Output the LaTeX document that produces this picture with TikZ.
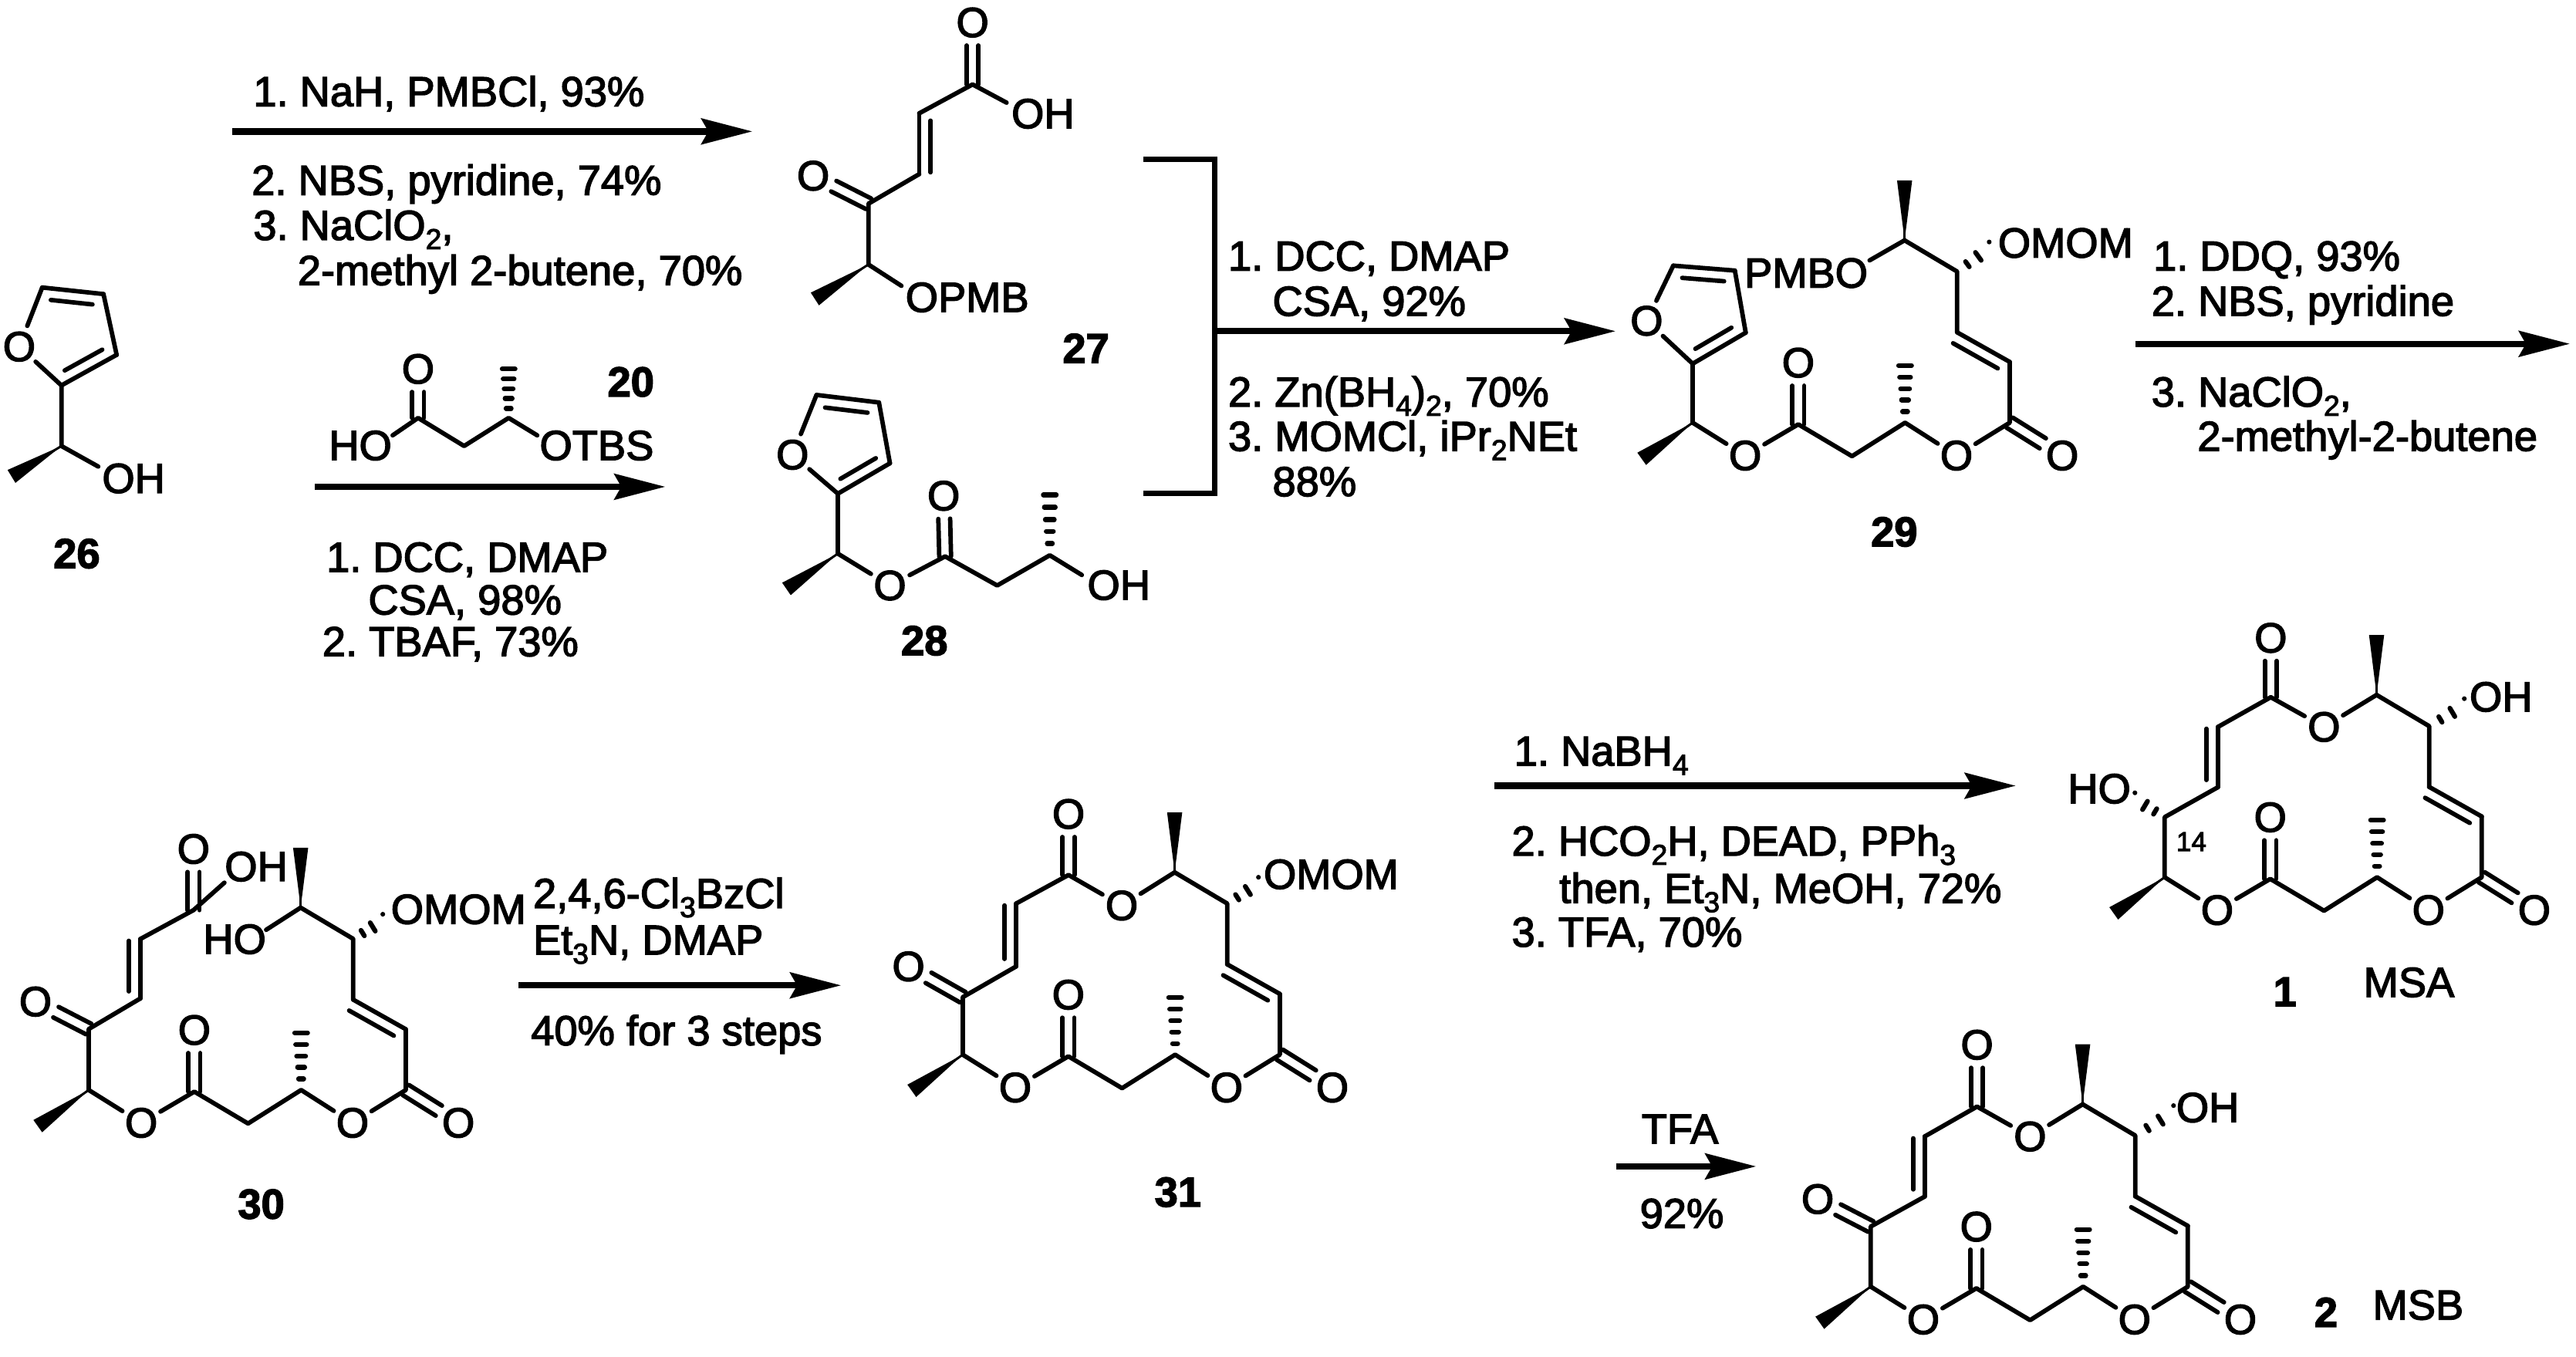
\documentclass[tikz,border=0pt]{standalone}
\usepackage{fontspec}
\setmainfont{Liberation Sans}[RawFeature={embolden=2.6}]
\frenchspacing
\usetikzlibrary{arrows.meta,calc}
\tikzset{
	scheme/.style={
		x=1pt,
		y=-1pt,
		font=\fontsize{25.5}{30}\selectfont,
	},
	plain bond/.style={
		line width=2.7pt,
		line cap=round,
		line join=round
	},
	hash bar/.style={
		line width=2.9pt,
		line cap=round
	},
	reaction arrow/.style={
		line width=3.9pt,
		-{Stealth[length=31pt,width=15.6pt,inset=4.2pt]}
	},
	bracket line/.style={
		line width=3pt,
		line join=miter
	},
	atom label/.style={
		circle,
		inner sep=0pt
	},
	group label/.style={
		anchor=base west,
		inner sep=0pt
	},
	reagent text/.style={
		anchor=base west,
		inner sep=0pt
	},
	compound number/.style={
		inner sep=0pt,
		font=\fontsize{25.5}{30}\selectfont\bfseries
	},
	compound name/.style={
		inner sep=0pt
	}
}
\newcommand{\subs}[1]{\raisebox{-0.22em}{\fontsize{17.5}{17.5}\selectfont #1}}
% offset line of a C=C, on the left of the way from #2 to #3 for 90
\newcommand{\innerbond}[3][90]{%
	\draw[plain bond] ($(#2)!0.12!(#3)!7pt!#1:(#3)$) -- ($(#2)!0.97!(#3)!7pt!#1:(#3)$);
	\draw[plain bond] (#2) -- (#3);
}
\newcommand{\ringbond}[2]{%
	\draw[plain bond] ($(#1)!0.16!(#2)!7pt!90:(#2)$) -- ($(#1)!0.84!(#2)!7pt!90:(#2)$);
	\draw[plain bond] (#1) -- (#2);
}
% C=O from a coordinate to an atom label
\newcommand{\cobond}[2]{%
	\draw[plain bond] ($(#1)!3.6pt!90:(#2)$) -- ($(#2)!14pt!(#1)!3.6pt!-90:(#1)$);
	\draw[plain bond] ($(#1)!3.6pt!-90:(#2)$) -- ($(#2)!14pt!(#1)!3.6pt!90:(#1)$);
}
\newcommand{\wedgebond}[2]{%
	\fill (#1) -- ($(#2)!4.6pt!90:(#1)$) -- ($(#2)!4.6pt!-90:(#1)$) -- cycle;
	\draw[line width=1.4pt] (#1) -- ($(#1)!0.25!(#2)$);
}
\newcommand{\hashbond}[3][0.19,0.39,0.58,0.78,0.98]{%
	\foreach \hpos in {#1}
		\draw[hash bar] ($(#2)!\hpos!(#3)!{1pt+\hpos*3pt}!90:(#3)$) -- ($(#2)!\hpos!(#3)!{1pt+\hpos*3pt}!-90:(#3)$);
}
% the part that all five macrolides share, placed by its lower left stereocentre
\newcommand{\macrolide}[3]{%
	\begin{scope}[shift={(#2,#3)}]
		\foreach \n/\x/\y in {s/0/0,w/-31/22,cb/64.3/1,ch/97/20.4,cc/129.3/0,hh/129.3/-35.5,cd/193/0,ce/193/-37,cf/161/-55,cg/161/-92,ci/129/-111,wi/129/-147.5}
			\coordinate (#1\n) at (\x,\y);
		\foreach \n/\x/\y in {oa/32/20,ob/64.3/-36.5,oc/160.6/20,od/225/20}
			\node[atom label] (#1\n) at (\x,\y) {O};
		\draw[plain bond] (#1s) -- (#1oa) -- (#1cb) -- (#1ch) -- (#1cc) -- (#1oc) -- (#1cd) -- (#1ce);
		\draw[plain bond] (#1cf) -- (#1cg) -- (#1ci);
		\innerbond{#1ce}{#1cf}
		\cobond{#1cb}{#1ob}
		\cobond{#1cd}{#1od}
		\wedgebond{#1s}{#1w}
		\wedgebond{#1ci}{#1wi}
		\hashbond{#1cc}{#1hh}
	\end{scope}
}

\begin{document}
\begin{tikzpicture}[scheme]
	\useasboundingbox (0,0) rectangle (1568,826);

	% 26
	\foreach \n/\x/\y in {a/25.7/175,b/63/179,c/71/216,d/37.4/234.6,e/37.4/271.5,w/7/290,f/59.8/284}
		\coordinate (m26\n) at (\x,\y);
	\node[atom label] (m26o) at (11.7,211) {O};
	\node[group label] (m26oh) at (62,300) {OH};
	\node[compound number] (n26) at (46.7,337) {26};
	\draw[plain bond] (m26o) -- (m26a) (m26b) -- (m26c) (m26d) -- (m26o) (m26d) -- (m26e) -- (m26f);
	\ringbond{m26d}{m26c}
	\ringbond{m26b}{m26a}
	\wedgebond{m26e}{m26w}

	% 26 to 27
	\coordinate (a1s) at (141.5,80);
	\coordinate (a1e) at (458,80);
	\draw[reaction arrow] (a1s) -- (a1e);
	\node[reagent text] (r1a) at (154,64.6) {1. NaH, PMBCl, 93\%};
	\node[reagent text] (r1b) at (153,118.6) {2. NBS, pyridine, 74\%};
	\node[reagent text] (r1c) at (154,146) {3. NaClO\subs{2},};
	\node[reagent text] (r1d) at (181,173.5) {2-methyl 2-butene, 70\%};

	% 27
	\foreach \n/\x/\y in {a/592/51.4,b/612.7/62.5,c/559.5/69,d/559.5/106,e/528.6/124,f/528.6/161,w/496/182,g/548.7/174}
		\coordinate (m27\n) at (\x,\y);
	\node[atom label] (m27o) at (592,13.7) {O};
	\node[atom label] (m27p) at (495,107) {O};
	\node[group label] (m27oh) at (615.5,78) {OH};
	\node[group label] (m27opmb) at (551,189.8) {OPMB};
	\node[compound number] (n27) at (661,212) {27};
	\draw[plain bond] (m27b) -- (m27a) -- (m27c) (m27d) -- (m27e) -- (m27f) -- (m27g);
	\innerbond{m27c}{m27d}
	\cobond{m27a}{m27o}
	\cobond{m27e}{m27p}
	\wedgebond{m27f}{m27w}

	% 20
	\foreach \n/\x/\y in {a/254.5/254.4,b/282.5/271.5,c/309.6/254.4,h/309.6/224,d/239/265,e/327/265}
		\coordinate (m20\n) at (\x,\y);
	\node[atom label] (m20o) at (254.5,224.6) {O};
	\node[group label] (m20ho) at (200,280) {HO};
	\node[group label] (m20otbs) at (328.3,280) {OTBS};
	\node[compound number] (n20) at (384,232.5) {20};
	\draw[plain bond] (m20d) -- (m20a) -- (m20b) -- (m20c) -- (m20e);
	\cobond{m20a}{m20o}
	\hashbond{m20c}{m20h}

	% 26 to 28
	\coordinate (a2s) at (191.5,296.3);
	\coordinate (a2e) at (405,296.3);
	\draw[reaction arrow] (a2s) -- (a2e);
	\node[reagent text] (r2a) at (198.5,348) {1. DCC, DMAP};
	\node[reagent text] (r2b) at (224,374) {CSA, 98\%};
	\node[reagent text] (r2c) at (196,399.4) {2. TBAF, 73\%};

	% 28
	\foreach \n/\x/\y in {a/497/240.4,b/535/245,c/541.7/282,d/510/300.5,e/510/337,w/478.7/358.5,f/575.3/338.7,g/607/356.4,i/639/338,h/639/300.5,j/658.5/350}
		\coordinate (m28\n) at (\x,\y);
	\node[atom label] (m28o) at (482.4,276.8) {O};
	\node[atom label] (m28p) at (541.7,356.4) {O};
	\node[atom label] (m28q) at (574.4,301.8) {O};
	\node[group label] (m28oh) at (661.7,365) {OH};
	\node[compound number] (n28) at (562.7,390) {28};
	\draw[plain bond] (m28o) -- (m28a) (m28b) -- (m28c) (m28d) -- (m28o) (m28d) -- (m28e) -- (m28p) -- (m28f) -- (m28g) -- (m28i) -- (m28j);
	\ringbond{m28d}{m28c}
	\ringbond{m28b}{m28a}
	\cobond{m28f}{m28q}
	\wedgebond{m28e}{m28w}
	\hashbond{m28i}{m28h}

	% 27 and 28 to 29
	\coordinate (br1) at (696,97);
	\coordinate (br2) at (739.4,97);
	\coordinate (br3) at (739.4,300.4);
	\coordinate (br4) at (696,300.4);
	\coordinate (a3s) at (739.4,201.6);
	\coordinate (a3e) at (983.4,201.6);
	\draw[bracket line] (br1) -- (br2) -- (br3) -- (br4);
	\draw[reaction arrow] (a3s) -- (a3e);
	\node[reagent text] (r3a) at (747.4,164.7) {1. DCC, DMAP};
	\node[reagent text] (r3b) at (774.4,192.2) {CSA, 92\%};
	\node[reagent text] (r3c) at (747.4,247.4) {2. Zn(BH\subs{4})\subs{2}, 70\%};
	\node[reagent text] (r3d) at (747.4,274.4) {3. MOMCl, iPr\subs{2}NEt};
	\node[reagent text] (r3e) at (774.4,302) {88\%};

	% 29
	\macrolide{m29}{1030.3}{257.3}
	\foreach \n/\x/\y in {a/1018.5/161.7,b/1056/164.7,c/1062.6/202.5,d/1030.3/221.4,f/1138/158.5,h/1210.8/151.3}
		\coordinate (m29\n) at (\x,\y);
	\node[atom label] (m29o) at (1002.3,195.3) {O};
	\node[group label] (m29pmbo) at (1061.6,175) {PMBO};
	\node[group label] (m29omom) at (1216,156.7) {OMOM};
	\node[compound number] (n29) at (1153,323.8) {29};
	\draw[plain bond] (m29o) -- (m29a) (m29b) -- (m29c) (m29d) -- (m29o) (m29d) -- (m29s) (m29ci) -- (m29f);
	\ringbond{m29d}{m29c}
	\ringbond{m29b}{m29a}
	\hashbond[0.32,0.66,1]{m29cg}{m29h}

	% 29 to 30
	\coordinate (a4s) at (1299.7,209.3);
	\coordinate (a4e) at (1564.3,209.3);
	\draw[reaction arrow] (a4s) -- (a4e);
	\node[reagent text] (r4a) at (1310.5,164.7) {1. DDQ, 93\%};
	\node[reagent text] (r4b) at (1309.4,192.2) {2. NBS, pyridine};
	\node[reagent text] (r4c) at (1309.4,247.4) {3. NaClO\subs{2},};
	\node[reagent text] (r4d) at (1337.4,274.4) {2-methyl-2-butene};

	% 30
	\macrolide{m30}{54}{663.5}
	\foreach \n/\x/\y in {a/54/626.4,c/85.4/607.8,d/85.4/571.6,e/117.8/554,f/136.6/537.3,g/162/566,h/233/560.5}
		\coordinate (m30\n) at (\x,\y);
	\node[atom label] (m30o) at (21.6,609.7) {O};
	\node[atom label] (m30p) at (117.8,516.8) {O};
	\node[group label] (m30oh) at (136.6,536.3) {OH};
	\node[group label] (m30ho) at (123.5,580.5) {HO};
	\node[group label] (m30omom) at (237.8,562.3) {OMOM};
	\node[compound number] (n30) at (159,733) {30};
	\draw[plain bond] (m30s) -- (m30a) -- (m30c) (m30d) -- (m30e) -- (m30f) (m30ci) -- (m30g);
	\innerbond{m30c}{m30d}
	\cobond{m30a}{m30o}
	\cobond{m30e}{m30p}
	\hashbond[0.32,0.66,1]{m30cg}{m30h}

	% 30 to 31
	\coordinate (a5s) at (315.8,599.8);
	\coordinate (a5e) at (512,599.8);
	\draw[reaction arrow] (a5s) -- (a5e);
	\node[reagent text] (r5a) at (324.3,552.7) {2,4,6-Cl\subs{3}BzCl};
	\node[reagent text] (r5b) at (324.3,581) {Et\subs{3}N, DMAP};
	\node[reagent text] (r5c) at (323,636.2) {40\% for 3 steps};

	% 31
	\macrolide{m31}{586}{642}
	\foreach \n/\x/\y in {a/586/607,c/618.5/588.3,d/618.5/550,e/650.4/532.6,h/766/538}
		\coordinate (m31\n) at (\x,\y);
	\node[atom label] (m31o) at (553,588.3) {O};
	\node[atom label] (m31p) at (650.4,495.5) {O};
	\node[atom label] (m31q) at (682.8,551.2) {O};
	\node[group label] (m31omom) at (769,541) {OMOM};
	\node[compound number] (n31) at (717,725.7) {31};
	\draw[plain bond] (m31s) -- (m31a) -- (m31c) (m31d) -- (m31e) -- (m31q) -- (m31ci);
	\innerbond{m31c}{m31d}
	\cobond{m31a}{m31o}
	\cobond{m31e}{m31p}
	\hashbond[0.32,0.66,1]{m31cg}{m31h}

	% 31 to 1
	\coordinate (a6s) at (909.4,478.3);
	\coordinate (a6e) at (1227,478.3);
	\draw[reaction arrow] (a6s) -- (a6e);
	\node[reagent text] (r6a) at (921.5,466) {1. NaBH\subs{4}};
	\node[reagent text] (r6b) at (920,520.8) {2. HCO\subs{2}H, DEAD, PPh\subs{3}};
	\node[reagent text] (r6c) at (949,549.6) {then, Et\subs{3}N, MeOH, 72\%};
	\node[reagent text] (r6d) at (920,576.2) {3. TFA, 70\%};

	% 1
	\macrolide{m1}{1317.6}{534}
	\foreach \n/\x/\y in {a/1317.6/497.4,c/1350/479.2,d/1350/442.5,e/1382.2/424.4,h/1299.5/486.6,i/1500/429.3}
		\coordinate (m1\n) at (\x,\y);
	\node[atom label] (m1p) at (1382.2,388.3) {O};
	\node[atom label] (m1q) at (1414.6,442.5) {O};
	\node[group label] (m1oh) at (1503,433) {OH};
	\node[group label] (m1ho) at (1258.5,488.9) {HO};
	\node[group label,font=\fontsize{16.5}{20}\selectfont] (m1num) at (1324.5,518) {14};
	\node[compound number] (n1) at (1390.8,603.8) {1};
	\node[compound name] (msa) at (1466.3,598) {MSA};
	\draw[plain bond] (m1s) -- (m1a) -- (m1c) (m1d) -- (m1e) -- (m1q) -- (m1ci);
	\innerbond{m1c}{m1d}
	\cobond{m1e}{m1p}
	\hashbond[0.32,0.66,1]{m1a}{m1h}
	\hashbond[0.32,0.66,1]{m1cg}{m1i}

	% 31 to 2
	\coordinate (a7s) at (983.6,710);
	\coordinate (a7e) at (1069,710);
	\draw[reaction arrow] (a7s) -- (a7e);
	\node[reagent text] (r7a) at (999,696) {TFA};
	\node[reagent text] (r7b) at (998,747.5) {92\%};

	% 2
	\macrolide{m2}{1138.7}{783.2}
	\foreach \n/\x/\y in {a/1138.7/746.6,c/1171.5/728.4,d/1171.5/691.8,e/1203.4/673.6,i/1323/677}
		\coordinate (m2\n) at (\x,\y);
	\node[atom label] (m2o) at (1106.4,729.9) {O};
	\node[atom label] (m2p) at (1203.4,636) {O};
	\node[atom label] (m2q) at (1235.7,691.8) {O};
	\node[group label] (m2oh) at (1324.5,683) {OH};
	\node[compound number] (n2) at (1415.8,798.8) {2};
	\node[compound name] (msb) at (1471.9,794.4) {MSB};
	\draw[plain bond] (m2s) -- (m2a) -- (m2c) (m2d) -- (m2e) -- (m2q) -- (m2ci);
	\innerbond{m2c}{m2d}
	\cobond{m2a}{m2o}
	\cobond{m2e}{m2p}
	\hashbond[0.32,0.66,1]{m2cg}{m2i}
\end{tikzpicture}
\end{document}
